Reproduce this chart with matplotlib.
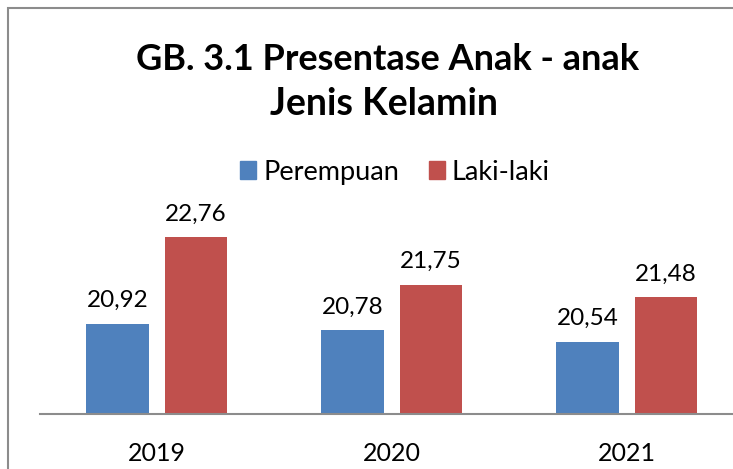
import numpy as np
import matplotlib.pyplot as plt
from matplotlib.patches import Rectangle, Patch

plt.rcParams['font.family'] = ['Lato', 'DejaVu Sans']

years = ["2019", "2020", "2021"]
perempuan = [20.92, 20.78, 20.54]
laki_laki = [22.76, 21.75, 21.48]

BLUE = "#4F81BD"
RED = "#C0504D"
W, H = 733, 469

fig = plt.figure(figsize=(W / 100, H / 100), dpi=100)
ax = fig.add_axes([39.5 / W, 55 / H, 705 / W, 188 / H])

x = np.arange(len(years))
bw = 0.268
gap = 0.064
off = (bw + gap) / 2
b1 = ax.bar(x - off, perempuan, bw, color=BLUE, label="Perempuan")
b2 = ax.bar(x + off, laki_laki, bw, color=RED, label="Laki-laki")

for bars, vals in ((b1, perempuan), (b2, laki_laki)):
    for rect, v in zip(bars, vals):
        ax.annotate(f"{v:.2f}".replace(".", ","),
                    (rect.get_x() + rect.get_width() / 2, v),
                    xytext=(0, 9), textcoords="offset points",
                    ha="center", va="bottom", fontsize=17.5, annotation_clip=False)

ax.set_xlim(-0.5, 2.5)
ax.set_ylim(19, 23)
ax.set_xticks(x)
ax.set_xticklabels(years, fontsize=18)
ax.tick_params(axis="x", length=0, pad=20)
ax.set_yticks([])
for s in ("left", "right", "top"):
    ax.spines[s].set_visible(False)
ax.spines["bottom"].set_color("#8C8C8C")
ax.spines["bottom"].set_linewidth(1.5)

fig.text(388 / W, 1 - 60 / H, "GB. 3.1 Presentase Anak - anak",
         ha="center", va="center", fontsize=26, fontweight="bold")
fig.text(384 / W, 1 - 104 / H, "Jenis Kelamin",
         ha="center", va="center", fontsize=27, fontweight="bold")

fig.legend(handles=[Patch(color=BLUE, label="Perempuan"), Patch(color=RED, label="Laki-laki")],
           loc="center", bbox_to_anchor=(395 / W, 1 - 172 / H), ncol=2, frameon=False,
           fontsize=19.5, handlelength=0.6, handleheight=0.6, handletextpad=0.25,
           columnspacing=1.1)

# chart border (cropped on right and bottom)
fig.patches.append(Rectangle((8 / W, -0.1), 1.2, 1.1 - 8 / H, transform=fig.transFigure,
                             fill=False, edgecolor="#8C8C8C", linewidth=1.5))

fig.savefig("out.png", dpi=100)
